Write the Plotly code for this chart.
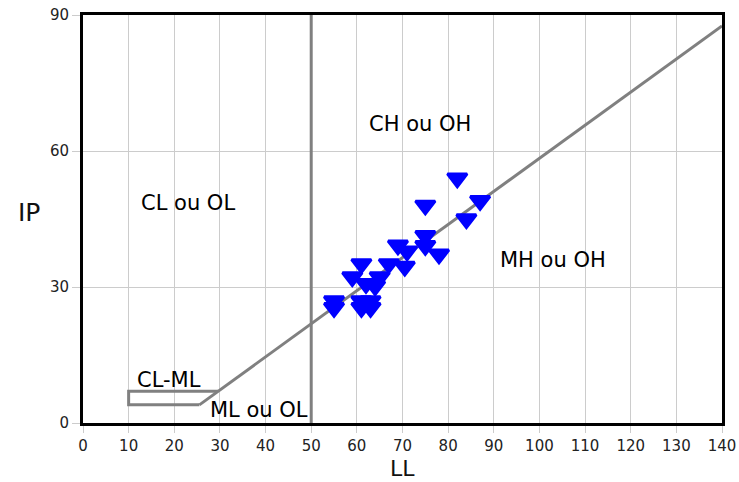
import plotly.graph_objects as go

# Data
LL = [82, 87, 75, 84, 75, 75, 78, 69, 71, 70.5, 67, 61, 59, 65, 64, 62, 55, 55, 61, 61, 63, 63]
IP = [54, 49, 48, 45, 41.3, 39.1, 37.2, 39.2, 37.9, 34.5, 35.1, 35.1, 32.2, 32.2, 30.2, 30.7, 26.9, 25.4, 26.9, 25.4, 26.9, 25.4]

A_LINE_LL = [25.5, 140]
A_LINE_IP = [4, 87.6]
BOX_LL = [29.6, 10, 10, 25.5]
BOX_IP = [7, 7, 4, 4]
VLINE_LL = [50, 50]
VLINE_IP = [0, 90]

ZONE_TEXT = ["CH ou OH", "CL ou OL", "MH ou OH", "CL-ML", "ML ou OL"]
ZONE_LL = [73.9, 23.0, 103.0, 18.8, 38.6]
ZONE_IP = [66.0, 48.5, 36.0, 9.4, 2.9]

X_TICKS = list(range(0, 141, 10))
Y_TICKS = [0, 30, 60, 90]

FONT = "DejaVu Sans"
GREY = "#808080"

fig = go.Figure()
fig.add_trace(go.Scatter(x=VLINE_LL, y=VLINE_IP, mode="lines",
                         line=dict(color=GREY, width=3), hoverinfo="skip", showlegend=False))
fig.add_trace(go.Scatter(x=A_LINE_LL, y=A_LINE_IP, mode="lines",
                         line=dict(color=GREY, width=3), hoverinfo="skip", showlegend=False))
fig.add_trace(go.Scatter(x=BOX_LL, y=BOX_IP, mode="lines",
                         line=dict(color=GREY, width=3), hoverinfo="skip", showlegend=False))
fig.add_trace(go.Scatter(x=LL, y=IP, mode="markers",
                         marker=dict(symbol="triangle-down", size=17, color="#0000ff",
                                     line=dict(color="#0000ff", width=3)),
                         showlegend=False))

for t, x, y in zip(ZONE_TEXT, ZONE_LL, ZONE_IP):
    fig.add_annotation(x=x, y=y, text=t, showarrow=False,
                       font=dict(family=FONT, size=21, color="#000000"))

# Axis titles (horizontal IP, as in the reference)
fig.add_annotation(x=-0.0845, y=0.516, xref="paper", yref="paper", text="IP", showarrow=False,
                   font=dict(family=FONT, size=25, color="#111111"), xanchor="center", yanchor="middle")
fig.add_annotation(x=0.5, y=-0.1434, xref="paper", yref="paper", text="LL", showarrow=False,
                   borderpad=0,
                   font=dict(family=FONT, size=22, color="#111111"), xanchor="center", yanchor="bottom")

fig.update_xaxes(range=[0, 140], tickvals=X_TICKS, ticktext=[str(v) for v in X_TICKS],
                 showgrid=True, gridcolor="#cccccc", gridwidth=1,
                 showline=True, linecolor="#000000", linewidth=3, mirror=True,
                 ticks="outside", ticklen=7, tickcolor="#cccccc",
                 tickfont=dict(family=FONT, size=15, color="#222222"),
                 zeroline=False, automargin=False)
fig.update_yaxes(range=[0, 90], tickvals=Y_TICKS, ticktext=[str(v) for v in Y_TICKS],
                 showgrid=True, gridcolor="#cccccc", gridwidth=1,
                 showline=True, linecolor="#000000", linewidth=3, mirror=True,
                 ticks="outside", ticklen=8, tickcolor="#cccccc",
                 tickfont=dict(family=FONT, size=15, color="#222222"),
                 zeroline=False, automargin=False)

fig.update_layout(width=739, height=482,
                  margin=dict(l=83, r=17, t=15, b=59),
                  plot_bgcolor="white", paper_bgcolor="white")

fig.write_html("out.html")
